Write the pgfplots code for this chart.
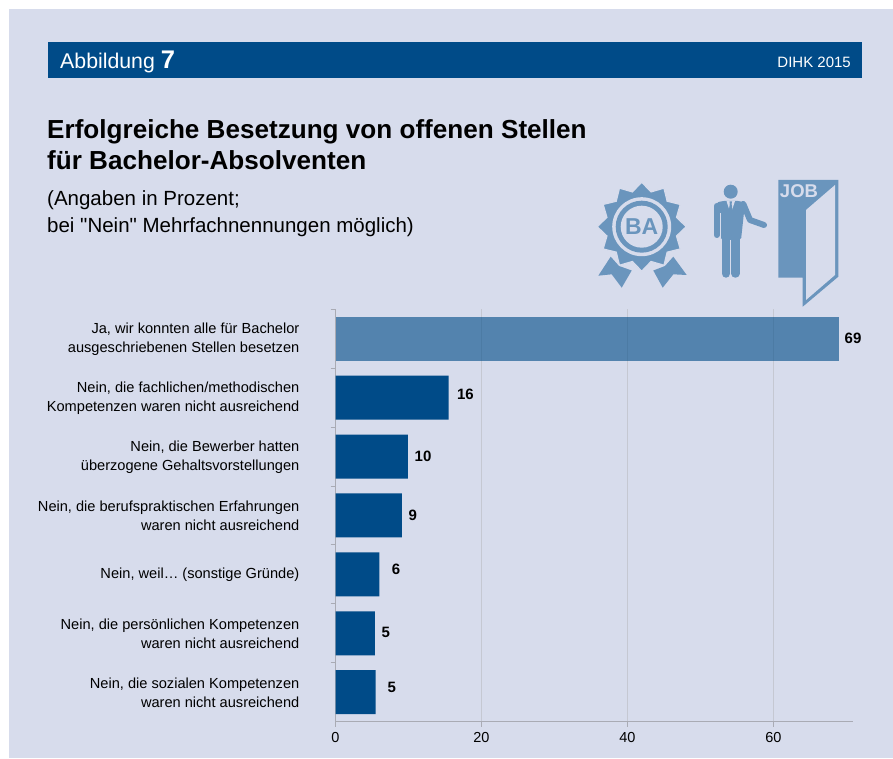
\documentclass[border=0pt]{standalone}
\usepackage{pgfplots}
\pgfplotsset{compat=1.18}
\usepackage{fontspec}
\setmainfont{Liberation Sans}
\newfontfamily\plainf{Liberation Sans}
\definecolor{panel}{HTML}{D7DCEC}
\definecolor{navy}{HTML}{004B88}
\definecolor{icon}{HTML}{6A95BD}
\definecolor{axgray}{HTML}{A9ABB4}
\definecolor{gridgray}{HTML}{C5C8D2}
\begin{document}
\begin{tikzpicture}[x=1pt,y=1pt]
\useasboundingbox (0,0) rectangle (893,758);
\fill[white] (0,0) rectangle (893,758);
\fill[panel] (9,0) rectangle (893,749);
\fill[navy] (48,680) rectangle (862,716);
\node[anchor=base west,text=white,inner sep=0pt,font=\fontsize{21.3}{24}\selectfont] at (60,689.5) {Abbildung \textbf{\fontsize{25.5}{24}\selectfont 7}};
\node[anchor=base east,text=white,inner sep=0pt,font=\fontsize{15}{18}\selectfont] at (851,690.5) {DIHK 2015};
\node[anchor=base west,inner sep=0pt,font=\bfseries\fontsize{26.1}{26}\selectfont] at (47,619) {Erfolgreiche Besetzung von offenen Stellen};
\node[anchor=base west,inner sep=0pt,font=\bfseries\fontsize{26.1}{26}\selectfont] at (47,588) {für Bachelor-Absolventen};
\node[anchor=base west,inner sep=0pt,font=\plainf\fontsize{20.5}{24}\selectfont] at (47,552) {(Angaben in Prozent;};
\node[anchor=base west,inner sep=0pt,font=\plainf\fontsize{20.5}{24}\selectfont] at (47,525) {bei "Nein" Mehrfachnennungen möglich)};
\begin{axis}[
  at={(335.5pt,36.4pt)},anchor=south west,scale only axis,
  width=517.5pt,height=412.3pt,
  xmin=0,xmax=70.9,
  ymin=-0.5,ymax=6.5,y dir=reverse,
  axis lines=left,axis line style={draw=axgray,line width=1.5pt,-},
  xtick={0,20,40,60},
  xmajorgrids,grid style={gridgray,line width=0.8pt},
  tick style={draw=axgray,line width=1pt},
  xtick align=outside,
  major tick length=5pt,
  ytick={0,1,2,3,4,5,6},
  major y tick style={draw=none},
  minor ytick={-0.5,0.5,1.5,2.5,3.5,4.5,5.5},
  minor tick length=5pt,
  minor y tick style={draw=axgray,line width=1pt},
  ytick align=outside,
  yticklabels={Ja{,} wir konnten alle für Bachelor\\ausgeschriebenen Stellen besetzen,
  Nein{,} die fachlichen/methodischen\\Kompetenzen waren nicht ausreichend,
  Nein{,} die Bewerber hatten\\überzogene Gehaltsvorstellungen,
  Nein{,} die berufspraktischen Erfahrungen\\waren nicht ausreichend,
  Nein{,} weil… (sonstige Gründe),
  Nein{,} die persönlichen Kompetenzen\\waren nicht ausreichend,
  Nein{,} die sozialen Kompetenzen\\waren nicht ausreichend},
  yticklabel style={align=right,font=\fontsize{14.6}{18.8}\selectfont,inner sep=0pt,anchor=east,xshift=-31pt,yshift=-0.5pt},
  xticklabel style={font=\fontsize{14.5}{18}\selectfont,inner sep=0pt,yshift=-6pt},
  /pgf/number format/assume math mode=true,
  clip=false,
]
\addplot[xbar,bar width=44pt,bar shift=0pt,fill=navy,fill opacity=0.61,draw=none] coordinates {(69,0)};
\addplot[xbar,bar width=44pt,bar shift=0pt,fill=navy,draw=none] coordinates {(15.5,1)(9.9,2)(9.1,3)(6,4)(5.4,5)(5.5,6)};
\addplot[only marks,mark=none,nodes near coords,point meta=explicit symbolic,
  every node near coord/.style={anchor=center,font=\bfseries\fontsize{15}{18}\selectfont,inner sep=0pt}]
  table[meta=label,row sep=\\] {
  x y label\\
  70.9 0 69\\
  17.8 0.95 16\\
  12 1.99 10\\
  10.6 3.0 9\\
  8.3 3.91 6\\
  6.9 4.99 5\\
  7.7 5.92 5\\
};
\end{axis}
% icons
\begin{scope}[shift={(0,758)},yscale=-1]
% door
\fill[icon] (778.3,180) -- (838.3,180) -- (838.3,276.7) -- (802.7,306.7) -- (802.7,277.7) -- (778.3,277.7) -- cycle;
\fill[panel] (835,185) -- (835,275) -- (806,300) -- (806,210) -- cycle;
\node[text=panel,font=\bfseries\fontsize{18.5}{18}\selectfont,inner sep=0pt,anchor=center] at (799,191.5) {JOB};
% man
\fill[icon] (730.7,191.7) circle (7);
\fill[icon,rounded corners=2pt] (716,203) -- (722,201) -- (740,201) -- (745,203) -- (741,240) -- (721,240) -- cycle;
\draw[icon,line width=6pt,line cap=round,line join=round] (716.7,206) -- (716.7,235);
\draw[icon,line width=6pt,line cap=round,line join=round] (743.3,204) -- (750,220) -- (764,225);
\draw[icon,line width=8.5pt,line cap=round] (726,235) -- (726,273.5);
\draw[icon,line width=8.5pt,line cap=round] (735.4,235) -- (735.4,273.5);
\draw[panel,line width=0.9pt] (720.6,213) -- (720.6,238);
\draw[panel,line width=0.9pt] (730.7,240) -- (730.7,278);
\fill[panel] (726.5,201) -- (730.7,214) -- (735,201) -- cycle;
\fill[icon] (729.5,201.5) -- (732,201.5) -- (731.6,204) -- (733,213) -- (730.7,217) -- (728.4,213) -- (729.8,204) -- cycle;
% rosette ribbons
\fill[icon] (610.7,256.7) -- (598.3,275.7) -- (611.7,274.3) -- (621.7,287.7) -- (631.7,270.5) -- (619,266) -- cycle;
\fill[icon] (673.3,256.7) -- (686.7,275) -- (673.3,274.3) -- (662.7,287.7) -- (653.3,270.5) -- (665,266) -- cycle;
% rosette star
\begin{scope}[shift={(641.7,226.7)}]
\fill[icon,draw=panel,line width=1.2pt] (90:44.5) \foreach \a in {0,30,...,330} { -- (\a+105:36) -- (\a+120:44.5) } -- cycle;
\fill[panel] (0,0) circle (29.5);
\fill[icon] (0,0) circle (26);
\fill[panel] (0,0) circle (21);
\node[text=icon,font=\bfseries\fontsize{23}{22}\selectfont,inner sep=0pt,anchor=center] at (0,0) {BA};
\end{scope}
\end{scope}
\end{tikzpicture}
\end{document}
